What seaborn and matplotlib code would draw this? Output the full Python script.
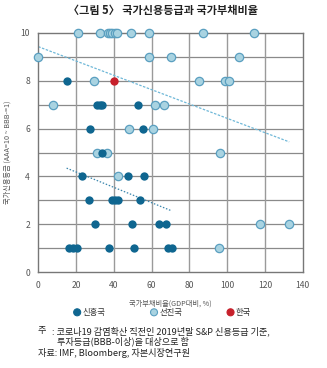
import matplotlib
matplotlib.use("Agg")
import matplotlib.pyplot as plt
import seaborn as sns
import pandas as pd
import numpy as np

sns.set_theme(style="white")
plt.rcParams["font.family"] = ["Noto Sans CJK KR", "DejaVu Sans"]

# 국가부채비율(GDP대비, %) / 신용등급 (AAA=10 ~ BBB-=1)
emerging_debt = [15.0, 31.2, 32.6, 33.7, 52.9, 27.2, 55.4, 33.5, 23.1, 47.6, 56.1,
                 26.8, 39.0, 40.6, 42.0, 53.8, 30.2, 49.6, 64.0, 67.4,
                 16.2, 18.5, 20.3, 37.2, 50.8, 68.8, 70.6]
emerging_rating = [8, 7, 7, 7, 7, 6, 6, 5, 4, 4, 4,
                   3, 3, 3, 3, 3, 2, 2, 2, 2,
                   1, 1, 1, 1, 1, 1, 1]

advanced_debt = [21.2, 32.6, 36.7, 37.9, 39.2, 40.6, 41.8, 49.0, 58.6, 87.3, 114.0,
                 0.0, 58.7, 70.5, 106.0,
                 29.6, 85.2, 98.9, 100.7,
                 7.9, 61.6, 66.7,
                 48.1, 60.7,
                 31.2, 36.2, 96.1,
                 42.2,
                 117.3, 132.8,
                 95.8]
advanced_rating = [10, 10, 10, 10, 10, 10, 10, 10, 10, 10, 10,
                   9, 9, 9, 9,
                   8, 8, 8, 8,
                   7, 7, 7,
                   6, 6,
                   5, 5, 5,
                   4,
                   2, 2,
                   1]

korea_debt = [40.0]
korea_rating = [8]

group_names = ["신흥국", "선진국", "한국"]
title = "〈그림 5〉 국가신용등급과 국가부채비율"
x_label = "국가부채비율(GDP대비, %)"
y_label = "국가신용등급 (AAA=10 ~ BBB-=1)"
x_ticks = [0, 20, 40, 60, 80, 100, 120, 140]
y_ticks = [0, 2, 4, 6, 8, 10]

dark = "#0f6690"
light_fill = "#a9d3e1"
light_edge = "#5a9fc0"
red = "#c7202b"
light_line = "#6fb8d8"

emerging = pd.DataFrame({"debt": emerging_debt, "rating": emerging_rating})
advanced = pd.DataFrame({"debt": advanced_debt, "rating": advanced_rating})
korea = pd.DataFrame({"debt": korea_debt, "rating": korea_rating})

fig = plt.figure(figsize=(3.27, 3.68), dpi=100)
ax = fig.add_axes([0.117, 0.260, 0.809, 0.651])

# grid
for yv in range(1, 10):
    ax.axhline(yv, color="#8a8a8a", lw=0.9, zorder=0)
for xv in x_ticks[1:-1]:
    ax.axvline(xv, color="#9a9a9a", lw=1.0, zorder=0)

# regression lines per group
sns.regplot(data=advanced, x="debt", y="rating", ax=ax,
            scatter=False, ci=None, truncate=True,
            line_kws=dict(color=light_line, lw=0.9, ls=(0, (2, 1.2)), zorder=1))
sns.regplot(data=emerging, x="debt", y="rating", ax=ax,
            scatter=False, ci=None, truncate=True,
            line_kws=dict(color="#3a86ad", lw=0.9, ls=(0, (1.2, 1.4)), zorder=1))

sns.scatterplot(data=advanced, x="debt", y="rating", ax=ax, s=36, color=light_fill,
                edgecolor=light_edge, linewidth=0.9, zorder=3, clip_on=False)
sns.scatterplot(data=emerging, x="debt", y="rating", ax=ax, s=36, color=dark,
                linewidth=0, zorder=4, clip_on=False)
sns.scatterplot(data=korea, x="debt", y="rating", ax=ax, s=36, color=red,
                linewidth=0, zorder=5, clip_on=False)

ax.set_xlim(0, 140)
ax.set_ylim(0, 10)
ax.set_xticks(x_ticks)
ax.set_yticks(y_ticks)
ax.tick_params(axis="both", length=0, labelsize=6.2, colors="#555555", pad=6)
for s in ax.spines.values():
    s.set_color("#777777")
    s.set_linewidth(1.0)
ax.set_xlabel(x_label, fontsize=5.2, color="#555555", labelpad=7)
ax.set_ylabel(y_label, fontsize=5.2, color="#555555", labelpad=6)

fig.text(0.5, 0.972, title, ha="center", va="center", fontsize=8.0, fontweight="bold", color="#222222")

# legend
leg_items = [(0.236, dark, None, group_names[0]),
             (0.471, light_fill, light_edge, group_names[1]),
             (0.705, red, None, group_names[2])]
for xpos, fc, ec, label in leg_items:
    fig.patches.append(matplotlib.patches.Ellipse((xpos, 1 - 312.3 / 368), 7 / 327, 7 / 368,
                                                  transform=fig.transFigure, facecolor=fc,
                                                  edgecolor=ec if ec else fc, linewidth=0.8))
    fig.text(xpos + 0.016, 1 - 312.3 / 368, label, ha="left", va="center", fontsize=6, color="#333333")

# notes
note_color = "#222222"
note_size = 6.6
fig.text(38 / 327, 1 - 331 / 368, "주", ha="left", va="center", fontsize=note_size, color=note_color)
fig.text(52 / 327, 1 - 331 / 368, ": 코로나19 감염확산 직전인 2019년말 S&P 신용등급 기준,",
         ha="left", va="center", fontsize=note_size, color=note_color)
fig.text(57 / 327, 1 - 341 / 368, "투자등급(BBB-이상)을 대상으로 함",
         ha="left", va="center", fontsize=note_size, color=note_color)
fig.text(38 / 327, 1 - 353 / 368, "자료: IMF, Bloomberg, 자본시장연구원",
         ha="left", va="center", fontsize=note_size, color=note_color)

fig.savefig("out.png", dpi=100)
